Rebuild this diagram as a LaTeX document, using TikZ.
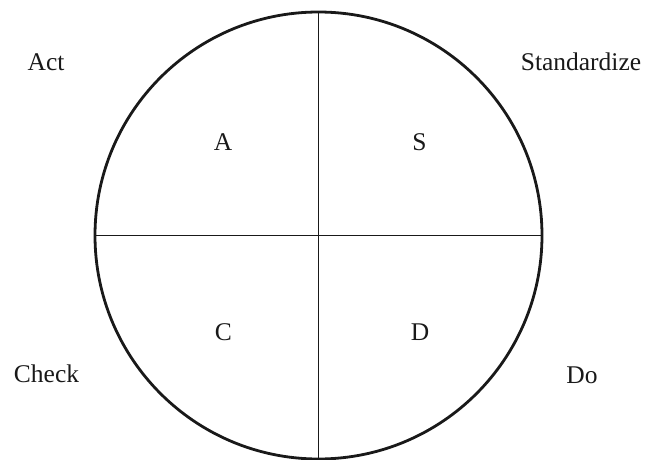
\documentclass[tikz,border=0pt]{standalone}
\usepackage{fontspec}
\setmainfont{Liberation Serif}
\usetikzlibrary{positioning}
\definecolor{inkgray}{RGB}{25,25,25}

\begin{document}
\begin{tikzpicture}[x=1pt, y=-1pt, font=\fontsize{25.5}{30}\selectfont,
    phase/.style={text=inkgray, inner sep=0pt},
    quad/.style={text=inkgray, inner sep=0pt}]
        \useasboundingbox (0,0) rectangle (648,460);
        % the wheel
        \node[circle, draw=inkgray, line width=2.8pt, minimum size=447pt, inner sep=0pt, outer sep=0pt] (wheel) at (318.5,235.5) {};
        \draw[inkgray, line width=1.7pt] (wheel.north) -- (wheel.south);
        \draw[inkgray, line width=1.7pt] (wheel.west) -- (wheel.east);
        % quadrant letters
        \node[quad] (A) at (223,142) {A};
        \node[quad] (S) at (419.5,142) {S};
        \node[quad] (C) at (223.5,332) {C};
        \node[quad] (D) at (420,332) {D};
        % phase names
        \node[phase] (act)  at (46,62)  {Act};
        \node[phase] (std)  at (581,62) {Standardize};
        \node[phase] (chk)  at (46.5,374) {Check};
        \node[phase] (do)   at (582,375) {Do};
      \end{tikzpicture}
\end{document}
